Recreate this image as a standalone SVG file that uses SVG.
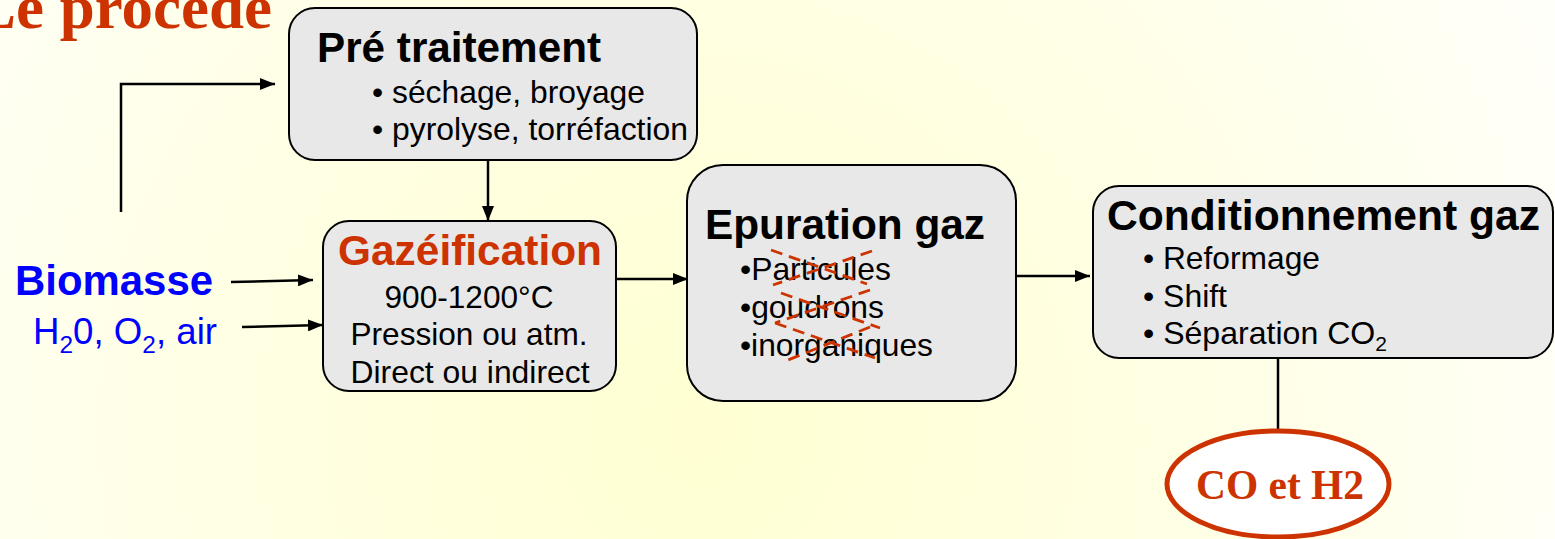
<svg xmlns="http://www.w3.org/2000/svg" width="1555" height="539" viewBox="0 0 1555 539">
<defs>
<radialGradient id="bg" cx="700" cy="430" r="950" gradientUnits="userSpaceOnUse">
<stop offset="0" stop-color="#FFFFD2"/>
<stop offset="0.6" stop-color="#FFFFE8"/>
<stop offset="1" stop-color="#FFFFFA"/>
</radialGradient>
<marker id="ah" markerWidth="15" markerHeight="12" refX="15" refY="6" orient="auto" markerUnits="userSpaceOnUse">
<path d="M0,0 L15,6 L0,12 Z" fill="#000"/>
</marker>
<style>
.box{fill:#E8E8E8;stroke:#000;stroke-width:2}
.t{font-family:"Liberation Sans",Arial,sans-serif;fill:#000}
.h{font-weight:bold}
.c{stroke:#000;stroke-width:2.5;fill:none}
.x{stroke:#CC3300;stroke-width:2.8;stroke-dasharray:12 7;fill:none}
</style>
</defs>
<rect x="0" y="0" width="1555" height="539" fill="url(#bg)"/>
<text x="-26" y="28" font-family="'Liberation Serif','Times New Roman',serif" font-weight="bold" font-size="62" fill="#CC3300" textLength="298" lengthAdjust="spacingAndGlyphs">Le procédé</text>

<g id="connectors">
<path class="c" d="M121,212 L121,84 L275,84" marker-end="url(#ah)"/>
<path class="c" d="M488,160 L488,221" marker-end="url(#ah)"/>
<path class="c" d="M231,282 L313,280" marker-end="url(#ah)"/>
<path class="c" d="M242,327 L323,325" marker-end="url(#ah)"/>
<path class="c" d="M617,279 L688,279" marker-end="url(#ah)"/>
<path class="c" d="M1016,276 L1090,276" marker-end="url(#ah)"/>
<path class="c" d="M1278,358 L1278,431"/>
</g>

<g id="inputs">
<text class="t h" x="15" y="295" font-size="42" style="fill:#0000FF" textLength="198" lengthAdjust="spacingAndGlyphs">Biomasse</text>
<text class="t" x="33" y="344" font-size="36" style="fill:#0000FF" textLength="184" lengthAdjust="spacingAndGlyphs">H<tspan font-size="24" dy="9">2</tspan><tspan dy="-9">0, O</tspan><tspan font-size="24" dy="9">2</tspan><tspan dy="-9">, air</tspan></text>
</g>

<g id="pretraitement">
<rect class="box" x="289" y="8" width="408" height="152" rx="26"/>
<text class="t h" x="317" y="62" font-size="42" textLength="284" lengthAdjust="spacingAndGlyphs">Pré traitement</text>
<text class="t" x="372" y="103" font-size="32" textLength="273" lengthAdjust="spacingAndGlyphs">• séchage, broyage</text>
<text class="t" x="372" y="140" font-size="32" textLength="316" lengthAdjust="spacingAndGlyphs">• pyrolyse, torréfaction</text>
</g>

<g id="gazeification">
<rect class="box" x="323" y="221" width="293" height="170" rx="26"/>
<text class="t h" x="470" y="265" font-size="42" text-anchor="middle" style="fill:#CC3300" textLength="264" lengthAdjust="spacingAndGlyphs">Gazéification</text>
<text class="t" x="469" y="308" font-size="32" text-anchor="middle" textLength="169" lengthAdjust="spacingAndGlyphs">900-1200°C</text>
<text class="t" x="469" y="345" font-size="32" text-anchor="middle" textLength="237" lengthAdjust="spacingAndGlyphs">Pression ou atm.</text>
<text class="t" x="470" y="383" font-size="32" text-anchor="middle" textLength="239" lengthAdjust="spacingAndGlyphs">Direct ou indirect</text>
</g>

<g id="epuration">
<rect class="box" x="687" y="165" width="329" height="236" rx="36"/>
<text class="t h" x="705" y="239" font-size="42" textLength="280" lengthAdjust="spacingAndGlyphs">Epuration gaz</text>
<text class="t" x="740" y="280" font-size="32" textLength="151" lengthAdjust="spacingAndGlyphs">•Particules</text>
<text class="t" x="740" y="318" font-size="32" textLength="144" lengthAdjust="spacingAndGlyphs">•goudrons</text>
<text class="t" x="740" y="356" font-size="32" textLength="193" lengthAdjust="spacingAndGlyphs">•inorganiques</text>
<path class="x" d="M771,250 L867,284 M872,251 L773,285 M781,293 L880,328 M870,290 L775,323 M775,323 L875,358 M870,327 L783,362"/>
</g>

<g id="conditionnement">
<rect class="box" x="1093" y="186" width="460" height="172" rx="26"/>
<text class="t h" x="1107" y="230" font-size="42" textLength="433" lengthAdjust="spacingAndGlyphs">Conditionnement gaz</text>
<text class="t" x="1143" y="269" font-size="32" textLength="177" lengthAdjust="spacingAndGlyphs">• Reformage</text>
<text class="t" x="1143" y="307" font-size="32" textLength="84" lengthAdjust="spacingAndGlyphs">• Shift</text>
<text class="t" x="1143" y="344" font-size="32" textLength="244" lengthAdjust="spacingAndGlyphs">• Séparation CO<tspan font-size="21" dy="7">2</tspan></text>
</g>

<g id="produit">
<ellipse cx="1278" cy="484" rx="111" ry="53" fill="#FFFFFF" stroke="#CC3300" stroke-width="5"/>
<text x="1280" y="499" font-family="'Liberation Serif','Times New Roman',serif" font-weight="bold" font-size="42" fill="#CC3300" text-anchor="middle" textLength="168" lengthAdjust="spacingAndGlyphs">CO et H2</text>
</g>
</svg>
